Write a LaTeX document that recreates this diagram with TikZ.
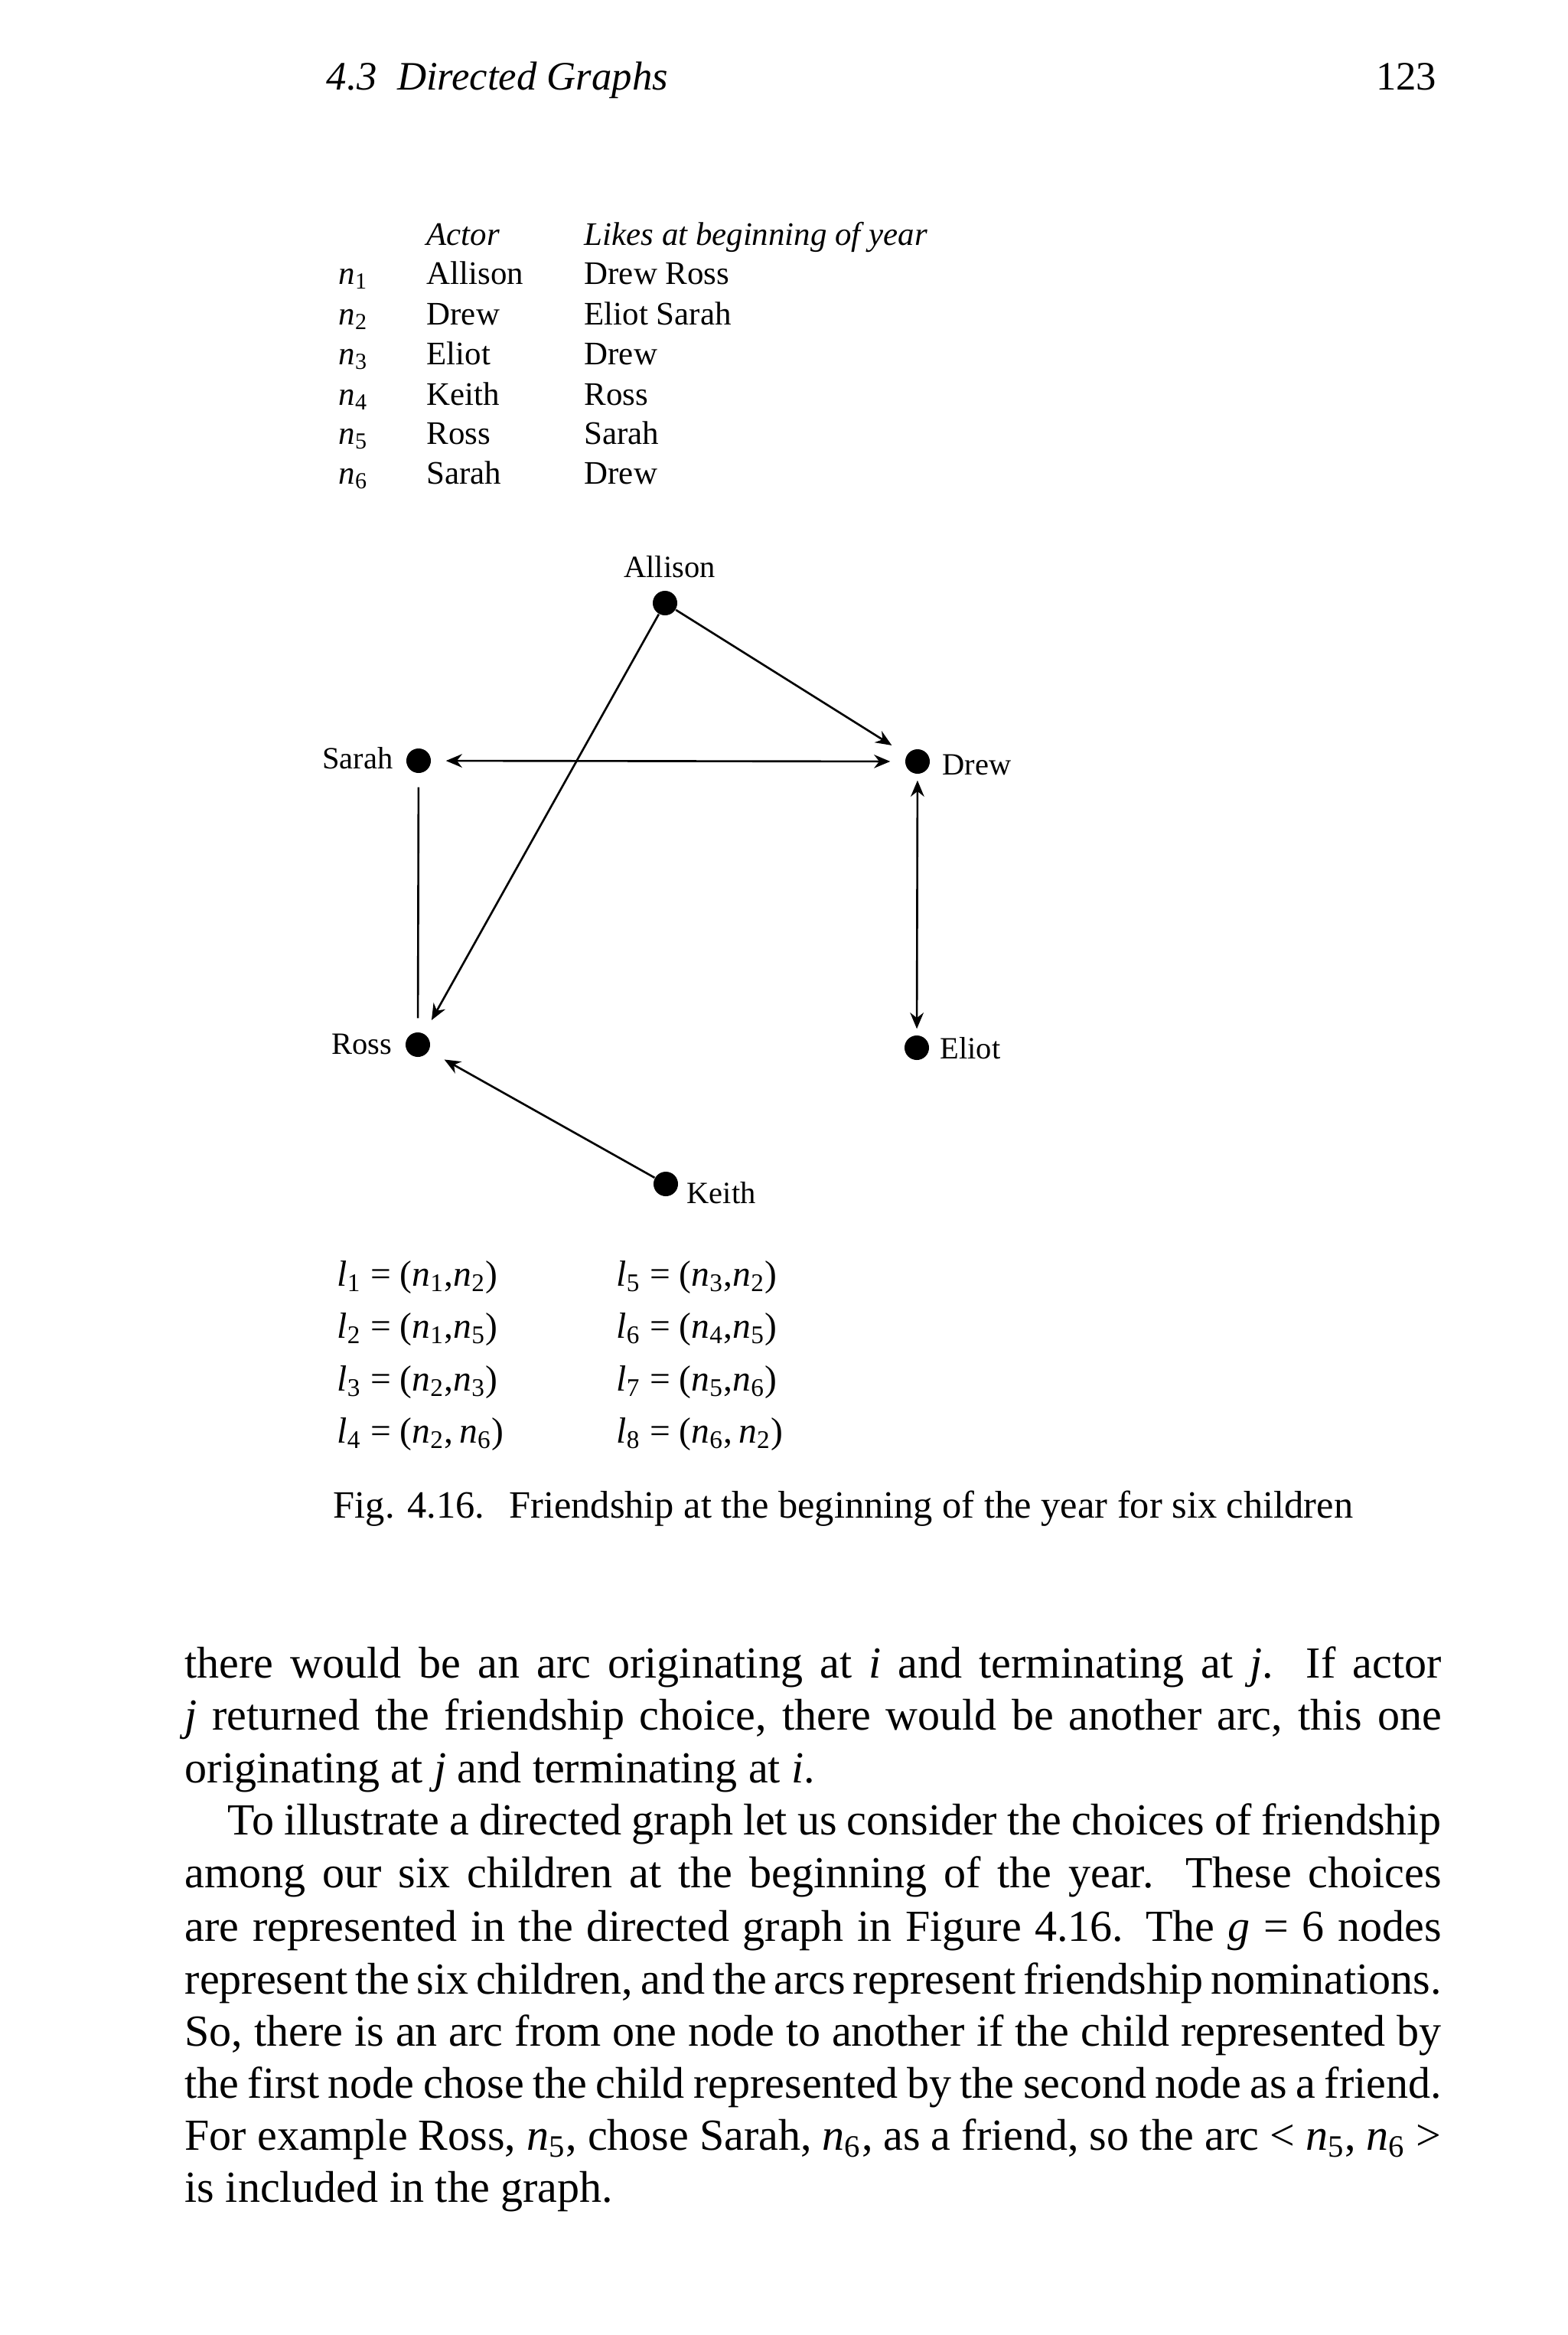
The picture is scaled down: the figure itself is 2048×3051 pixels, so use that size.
\documentclass[tikz,border=0pt]{standalone}
\usepackage{fontspec}
\setmainfont{Liberation Serif}
\usetikzlibrary{arrows.meta}
\newcommand\sbn[1]{\textsubscript{#1}}
\begin{document}
\begin{tikzpicture}[x=0.01cm,y=-0.01cm,
  txtbase/.style={inner sep=0pt, anchor=base west},
  hdrtxt/.style={txtbase, font=\fontsize{15pt}{17pt}\selectfont},
  tabtxt/.style={txtbase, font=\fontsize{12.2pt}{14pt}\selectfont},
  lbltxt/.style={inner sep=0pt, font=\fontsize{11.5pt}{13pt}\selectfont},
  lsttxt/.style={txtbase, font=\fontsize{13.5pt}{16pt}\selectfont},
  captxt/.style={txtbase, font=\fontsize{14.35pt}{17pt}\selectfont},
  bodytxt/.style={txtbase, font=\fontsize{16.5pt}{19.5pt}\selectfont},
  gdot/.style={circle, fill=black, draw=none, inner sep=0pt, minimum size=0.32cm},
  arcline/.style={line width=0.75pt, -{Stealth[length=6pt,width=5pt]}},
  biarcline/.style={line width=0.75pt, {Stealth[length=6pt,width=5pt]}-{Stealth[length=6pt,width=5pt]}},
  plainline/.style={line width=0.75pt}
]
\fill[white] (0,0) rectangle (2048,3051);
\useasboundingbox (0,0) rectangle (2048,3051);

% running head
\node[hdrtxt] (head) at (426,117) {\textit{4.3\hspace{0.5em}Directed Graphs}};
\node[hdrtxt, anchor=base east] (page) at (1878,117) {123};

% table
\node[tabtxt] (tha) at (557,320) {\textit{Actor}};
\node[tabtxt] (thl) at (763,320) {\textit{Likes at beginning of year}};
\node[tabtxt] (tn1) at (442,371) {\textit{n}\sbn{1}};
\node[tabtxt] (ta1) at (557,371) {Allison};
\node[tabtxt] (tl1) at (763,371) {Drew Ross};
\node[tabtxt] (tn2) at (442,424) {\textit{n}\sbn{2}};
\node[tabtxt] (ta2) at (557,424) {Drew};
\node[tabtxt] (tl2) at (763,424) {Eliot Sarah};
\node[tabtxt] (tn3) at (442,476) {\textit{n}\sbn{3}};
\node[tabtxt] (ta3) at (557,476) {Eliot};
\node[tabtxt] (tl3) at (763,476) {Drew};
\node[tabtxt] (tn4) at (442,529) {\textit{n}\sbn{4}};
\node[tabtxt] (ta4) at (557,529) {Keith};
\node[tabtxt] (tl4) at (763,529) {Ross};
\node[tabtxt] (tn5) at (442,580) {\textit{n}\sbn{5}};
\node[tabtxt] (ta5) at (557,580) {Ross};
\node[tabtxt] (tl5) at (763,580) {Sarah};
\node[tabtxt] (tn6) at (442,632) {\textit{n}\sbn{6}};
\node[tabtxt] (ta6) at (557,632) {Sarah};
\node[tabtxt] (tl6) at (763,632) {Drew};

% graph nodes
\node[gdot] (allison) at (869,788) {};
\node[gdot] (sarah) at (547,994) {};
\node[gdot] (drew) at (1199,995) {};
\node[gdot] (ross) at (546,1365) {};
\node[gdot] (eliot) at (1198,1369) {};
\node[gdot] (keith) at (870,1547) {};

\node[lbltxt, anchor=base] (lallison) at (875,754) {Allison};
\node[lbltxt, anchor=base east] (lsarah) at (514,1004) {Sarah};
\node[lbltxt, anchor=base west] (ldrew) at (1231,1012) {Drew};
\node[lbltxt, anchor=base east] (lross) at (513,1377) {Ross};
\node[lbltxt, anchor=base west] (leliot) at (1228,1383) {Eliot};
\node[lbltxt, anchor=base west] (lkeith) at (897,1572) {Keith};

% arcs
\draw[arcline, shorten >=0.23cm] (allison) -- (drew);
\draw[arcline, shorten >=0.2cm] (allison) -- (ross);
\draw[biarcline, shorten <=0.19cm, shorten >=0.19cm] (sarah) -- (drew);
\draw[biarcline, shorten <=0.08cm, shorten >=0.08cm] (drew) -- (eliot);
\draw[plainline, shorten <=0.18cm, shorten >=0.18cm] (sarah) -- (ross);
\draw[arcline, shorten >=0.23cm] (keith) -- (ross);

% arc list
\node[lsttxt] (e1) at (440,1680) {\textit{l}\sbn{1} = (\textit{n}\sbn{1},\textit{n}\sbn{2})};
\node[lsttxt] (e2) at (440,1748) {\textit{l}\sbn{2} = (\textit{n}\sbn{1},\textit{n}\sbn{5})};
\node[lsttxt] (e3) at (440,1817) {\textit{l}\sbn{3} = (\textit{n}\sbn{2},\textit{n}\sbn{3})};
\node[lsttxt] (e4) at (440,1885) {\textit{l}\sbn{4} = (\textit{n}\sbn{2},\,\textit{n}\sbn{6})};
\node[lsttxt] (e5) at (805,1680) {\textit{l}\sbn{5} = (\textit{n}\sbn{3},\textit{n}\sbn{2})};
\node[lsttxt] (e6) at (805,1748) {\textit{l}\sbn{6} = (\textit{n}\sbn{4},\textit{n}\sbn{5})};
\node[lsttxt] (e7) at (805,1817) {\textit{l}\sbn{7} = (\textit{n}\sbn{5},\textit{n}\sbn{6})};
\node[lsttxt] (e8) at (805,1885) {\textit{l}\sbn{8} = (\textit{n}\sbn{6},\,\textit{n}\sbn{2})};

% caption
\node[captxt] (caption) at (435,1983) {Fig. 4.16.\hspace{0.3em} Friendship at the beginning of the year for six children};

% body text
\node[bodytxt] (b1) at (241,2192) {\hbox to 466.9pt{there would be an arc originating at \textit{i} and terminating at \textit{j}. If actor}};
\node[bodytxt] (b2) at (241,2260) {\hbox to 466.9pt{\textit{j} returned the friendship choice, there would be another arc, this one}};
\node[bodytxt] (b3) at (241,2329) {originating at \textit{j} and terminating at \textit{i}.};
\node[bodytxt] (b4) at (297,2397) {\hbox to 451.0pt{To illustrate a directed graph let us consider the choices of friendship}};
\node[bodytxt] (b5) at (241,2466) {\hbox to 466.9pt{among our six children at the beginning of the year. These choices}};
\node[bodytxt] (b6) at (241,2536) {\hbox to 466.9pt{are represented in the directed graph in Figure 4.16. The \textit{g} = 6 nodes}};
\node[bodytxt] (b7) at (241,2605) {\hbox to 466.9pt{represent the six children, and the arcs represent friendship nominations.}};
\node[bodytxt] (b8) at (241,2673) {\hbox to 466.9pt{So, there is an arc from one node to another if the child represented by}};
\node[bodytxt] (b9) at (241,2741) {\hbox to 466.9pt{the first node chose the child represented by the second node as a friend.}};
\node[bodytxt] (b10) at (241,2809) {\hbox to 466.9pt{For example Ross, \textit{n}\sbn{5}, chose Sarah, \textit{n}\sbn{6}, as a friend, so the arc < \textit{n}\sbn{5}, \textit{n}\sbn{6} >}};
\node[bodytxt] (b11) at (241,2877) {is included in the graph.};
\end{tikzpicture}
\end{document}
